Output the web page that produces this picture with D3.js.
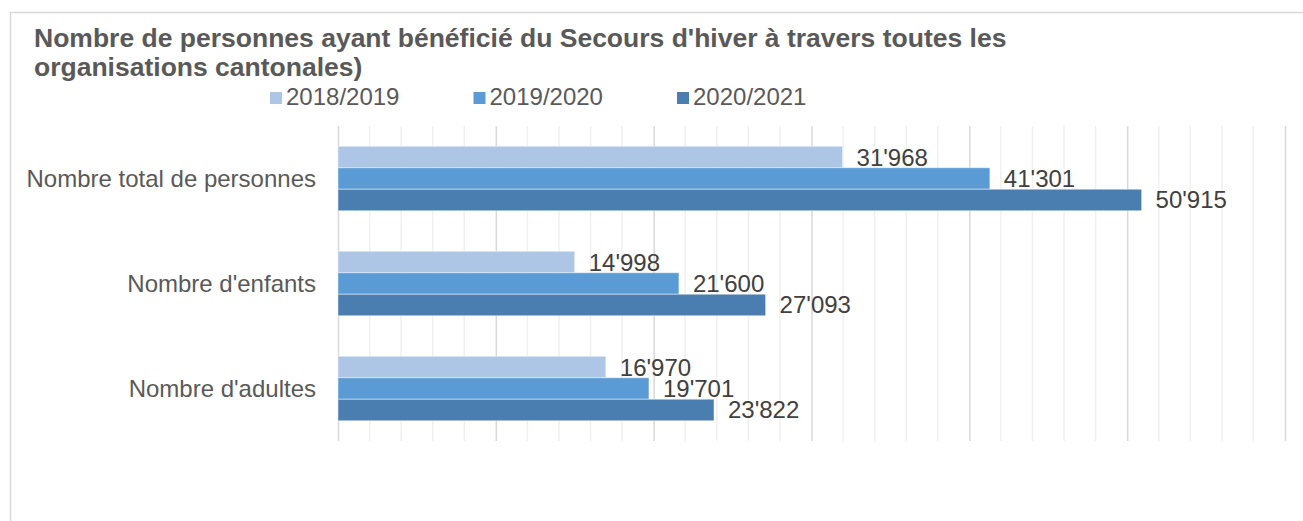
<!DOCTYPE html>
<html>
<head>
<meta charset="utf-8">
<script src="https://cdn.jsdelivr.net/npm/d3@7"></script>
<style>
  body { margin: 0; background: #fff; }
  svg { display: block; font-family: "Liberation Sans", Arial, sans-serif; }
</style>
</head>
<body>
<div id="chart"></div>
<script>
const width = 1303;
const height = 521;

// données
const categories = ["Nombre total de personnes", "Nombre d'enfants", "Nombre d'adultes"];
const seriesNames = ["2018/2019", "2019/2020", "2020/2021"];
const values2018 = [31968, 14998, 16970];
const values2019 = [41301, 21600, 19701];
const values2020 = [50915, 27093, 23822];
const colors = ["#aec6e6", "#5b9bd5", "#4a7eb0"];
const titleLines = [
  "Nombre de personnes ayant bénéficié du Secours d'hiver à travers toutes les",
  "organisations cantonales)"
];

const seriesValues = [values2018, values2019, values2020];
const rows = categories.map((c, i) => ({
  cat: c,
  vals: seriesNames.map((s, j) => ({ serie: s, value: seriesValues[j][i], color: colors[j] }))
}));

const fmt = v => d3.format(",")(v).replace(/,/g, "'");

const svg = d3.select("#chart")
  .append("svg")
  .attr("width", width)
  .attr("height", height);

// cadre du graphique
svg.append("rect")
  .attr("x", 10.5).attr("y", 12.5)
  .attr("width", 1400).attr("height", 600)
  .attr("fill", "none")
  .attr("stroke", "#d9d9d9")
  .attr("stroke-width", 1.5);

// titre
svg.append("g")
  .selectAll("text")
  .data(titleLines)
  .join("text")
  .attr("x", 34)
  .attr("y", (d, i) => 47 + i * 28.5)
  .attr("fill", "#595959")
  .attr("font-size", 26.5)
  .attr("font-weight", "bold")
  .text(d => d);

// légende
const legend = svg.append("g")
  .selectAll("g")
  .data(seriesNames)
  .join("g")
  .attr("transform", (d, i) => `translate(${270 + i * 203.5},0)`);

legend.append("rect")
  .attr("x", 0).attr("y", 92)
  .attr("width", 12).attr("height", 12)
  .attr("fill", (d, i) => colors[i]);

legend.append("text")
  .attr("x", 16).attr("y", 104.5)
  .attr("fill", "#595959")
  .attr("font-size", 24)
  .text(d => d);

// échelles
const x = d3.scaleLinear().domain([0, 60000]).range([338, 1285]);
const y = d3.scaleBand().domain(categories).range([126, 441])
  .paddingInner(0.386).paddingOuter(0.193);
const ySub = d3.scaleBand().domain(seriesNames).range([0, y.bandwidth()]);

// quadrillage
const minorTicks = d3.range(0, 60001, 2000).filter(t => t % 10000 !== 0);
svg.append("g")
  .selectAll("line")
  .data(minorTicks)
  .join("line")
  .attr("x1", d => x(d)).attr("x2", d => x(d))
  .attr("y1", 126).attr("y2", 441)
  .attr("stroke", "#f0f0f0")
  .attr("stroke-width", 1.5);

const xAxis = svg.append("g")
  .attr("transform", "translate(0,126)")
  .call(d3.axisBottom(x).ticks(6).tickSize(315).tickFormat(""));
xAxis.select(".domain").remove();
xAxis.selectAll(".tick line")
  .attr("stroke", "#d9d9d9")
  .attr("stroke-width", 1.5);

// barres
const group = svg.append("g")
  .selectAll("g")
  .data(rows)
  .join("g")
  .attr("transform", d => `translate(0,${y(d.cat)})`);

group.selectAll("rect")
  .data(d => d.vals)
  .join("rect")
  .attr("x", x(0))
  .attr("y", d => ySub(d.serie))
  .attr("width", d => x(d.value) - x(0))
  .attr("height", ySub.bandwidth())
  .attr("fill", d => d.color)
  .attr("stroke", "#ffffff")
  .attr("stroke-opacity", 0.45)
  .attr("stroke-width", 1);

group.selectAll("text")
  .data(d => d.vals)
  .join("text")
  .attr("x", d => x(d.value) + 14)
  .attr("y", d => ySub(d.serie) + ySub.bandwidth() / 2 + 8.5)
  .attr("fill", "#404040")
  .attr("font-size", 24)
  .text(d => fmt(d.value));

// étiquettes des catégories
svg.append("g")
  .selectAll("text")
  .data(categories)
  .join("text")
  .attr("x", 316)
  .attr("y", d => y(d) + y.bandwidth() / 2 + 8.5)
  .attr("text-anchor", "end")
  .attr("fill", "#595959")
  .attr("font-size", 24)
  .text(d => d);
</script>
</body>
</html>
